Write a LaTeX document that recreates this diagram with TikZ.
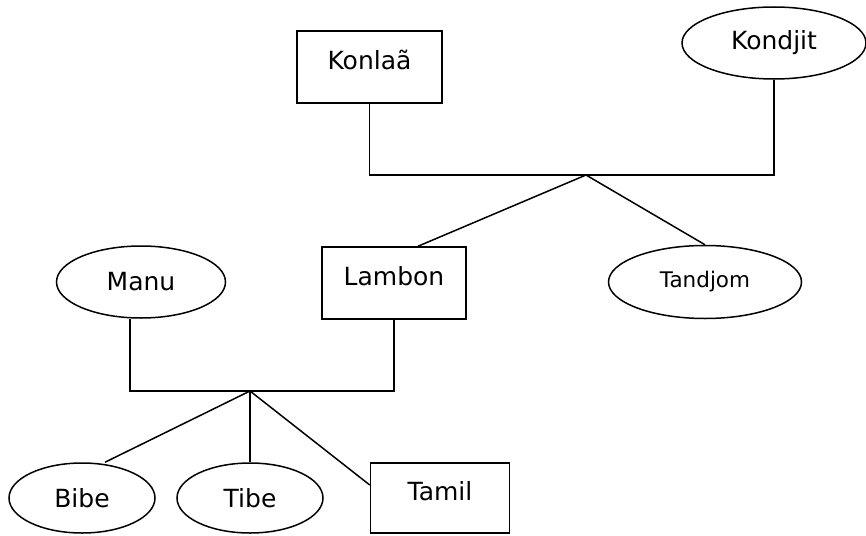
\documentclass[tikz,border=0pt]{standalone}
\usepackage{fontspec}
\setmainfont{DejaVu Sans}
\usetikzlibrary{shapes.geometric,positioning}
\tikzset{entbox/.style={draw,line width=1.5pt,minimum width=145pt,minimum height=72pt,inner sep=0pt,text height=19pt,text depth=15pt,font=\fontsize{25}{28}\selectfont}}
\tikzset{attr/.style={draw,ellipse,line width=1.5pt,inner sep=0pt,font=\fontsize{25}{28}\selectfont}}
\tikzset{link/.style={line width=1.5pt}}

\begin{document}
\begin{tikzpicture}[x=1pt,y=-1pt]
		\useasboundingbox (0,0) rectangle (866,535);
		% upper part
		\node [entbox] (konlaa) at (369.5,67) {Konla\~a};
		\node [attr,minimum width=184pt,minimum height=72pt] (kondjit) at (774,43) {Kondjit};
		\node [entbox,minimum width=144pt] (lambon) at (394,283) {Lambon};
		\node [attr,minimum width=193pt,minimum height=73pt,font=\fontsize{21.5}{24}\selectfont] (tandjom) at (705,282) {Tandjom};
		\coordinate (j1) at (586,175);
		\draw [link] (konlaa.south) |- (j1) -| (kondjit.south);
		\draw [link] (j1) -- ([xshift=24pt]lambon.north);
		\draw [link] (j1) -- (tandjom.north);
		% lower part
		\node [attr,minimum width=169pt,minimum height=72pt] (manu) at (141,282) {Manu};
		\node [attr,minimum width=146pt,minimum height=70pt] (bibe) at (82,498) {Bibe};
		\node [attr,minimum width=146pt,minimum height=70pt] (tibe) at (250,498) {Tibe};
		\node [entbox,minimum width=139pt,minimum height=70pt] (tamil) at (440,498) {Tamil};
		\coordinate (j2) at (250,391);
		\draw [link] ([xshift=-11pt]manu.south) |- (j2) -| (lambon.south);
		\draw [link] (j2) -- ([xshift=23pt]bibe.north);
		\draw [link] (j2) -- (tibe.north);
		\draw [link] (j2) -- ([yshift=13pt]tamil.west);
\end{tikzpicture}
\end{document}
